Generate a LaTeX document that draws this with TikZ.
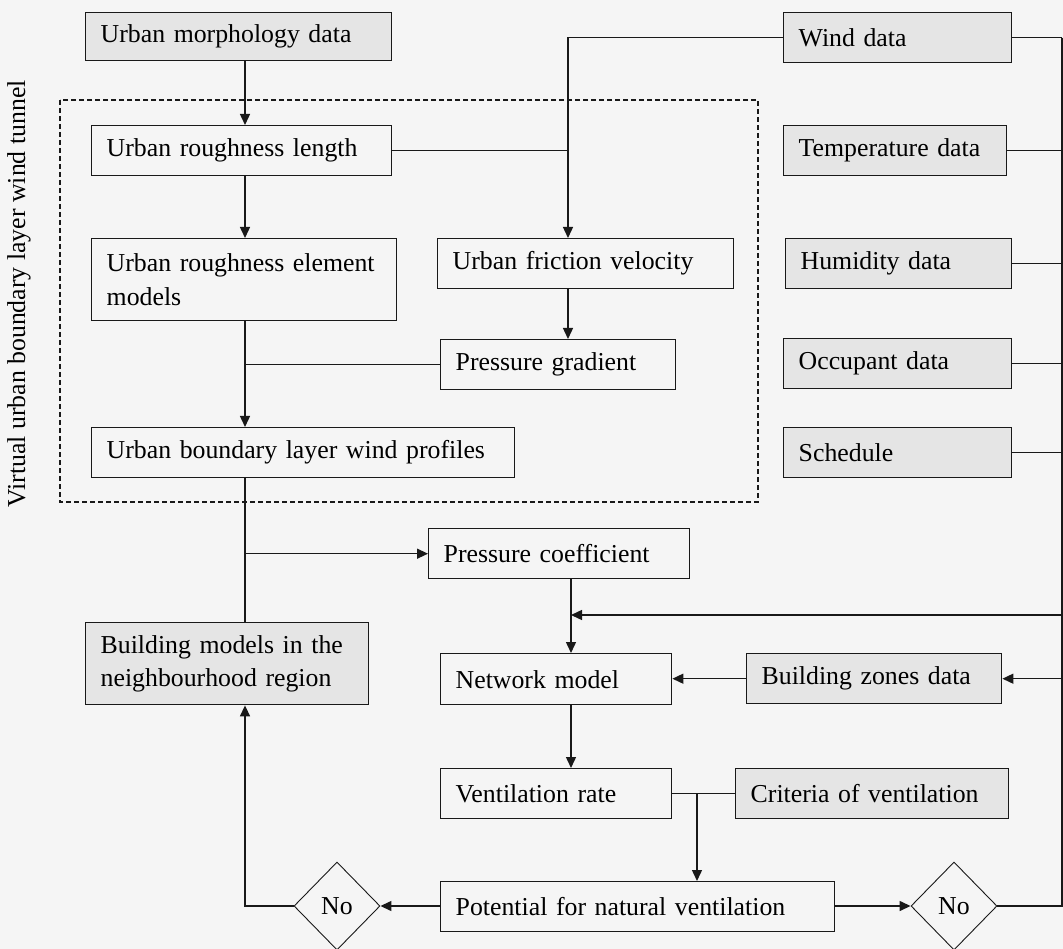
\documentclass[tikz,border=0pt]{standalone}
\usepackage{fontspec}
\setmainfont{Liberation Serif}
\usetikzlibrary{shapes.geometric,arrows.meta}

\definecolor{sheet}{RGB}{245,245,245}
\definecolor{datafill}{RGB}{229,229,229}
\definecolor{ink}{RGB}{25,25,25}

\begin{document}
\begin{tikzpicture}[x=1pt, y=-1pt, font=\fontsize{25.8}{33.5}\selectfont]
	\tikzstyle{block}    = [rectangle, draw=ink, line width=1.4pt, anchor=north west, inner xsep=15pt, inner ysep=0pt, align=left, minimum height=50pt]
	\tikzstyle{datablock} = [block, fill=datafill]
	\tikzstyle{decision} = [diamond, draw=ink, line width=0.9pt, minimum width=86pt, minimum height=88pt, inner sep=0pt, fill=sheet]
	\tikzstyle{flow}     = [draw=ink, line width=1.4pt, -{Triangle[length=11pt, width=10pt]}]
	\tikzstyle{link}     = [draw=ink, line width=1.4pt]

	\useasboundingbox (0,0) rectangle (1063,949);
	\fill[sheet] (0,0) rectangle (1063,949);

%	\draw[step=50, gray!50] (0,0) grid (1063,949);

	% wind tunnel part
	\draw[ink, line width=1.3pt, dash pattern=on 5pt off 3pt] (60,100) rectangle (758,502);
	\node[rotate=90] (tunnel) at (19,294) {Virtual urban boundary layer wind tunnel};

	\node[datablock, text width=276pt, minimum height=48pt] (morph) at (85,12) {Urban morphology data};
	\node[block, text width=270pt] (rlen) at (91,125) {Urban roughness length};
	\node[block, text width=275pt, minimum height=82pt] (relem) at (91,238) {Urban roughness element\\models};
	\node[block, text width=393pt] (wprof) at (91,427) {Urban boundary layer wind profiles};
	\node[datablock, text width=253pt, minimum height=82pt] (bldg) at (85,622) {Building models in the\\neighbourhood region};

	\node[block, text width=266pt] (fric) at (437,238) {Urban friction velocity};
	\node[block, text width=205pt] (pgrad) at (440,339) {Pressure gradient};
	\node[block, text width=231pt] (pcoef) at (428,528) {Pressure coefficient};
	\node[block, text width=201pt, minimum height=51pt] (netw) at (440,653) {Network model};
	\node[block, text width=201pt] (vrate) at (440,768) {Ventilation rate};
	\node[block, text width=364pt] (poten) at (440,881) {Potential for natural ventilation};

	\foreach \name/\x/\y/\w/\text in {wind/783/12/198/Wind data, temp/783/125/193/Temperature data,
			humid/785/238/196/Humidity data, occup/783/338/198/Occupant data, sched/783/427/198/Schedule,
			zones/746/653/225/Building zones data, crit/735/768/243/Criteria of ventilation}
		\node[datablock, text width=\w pt] (\name) at (\x,\y) {\text};

	\node[decision] (noL) at (337,906) {No};
	\node[decision] (noR) at (954,906) {No};

	% columns the connectors run along
	\coordinate (lcol) at (245,0);
	\coordinate (mcol) at (568,0);
	\coordinate (ncol) at (571,0);
	\coordinate (pcol) at (697,0);
	\coordinate (bus) at (1062,0);
	\coordinate (tap) at (1062,615);

	\foreach \from/\to in {morph/rlen, rlen/relem, relem/wprof}
		\path[flow] (\from.south -| lcol) -- (\to.north -| lcol);
	\path[link] (wprof.south -| lcol) -- (bldg.north -| lcol);
	\path[link] (pgrad.west) -- (pgrad.west -| lcol);
	\path[flow] (pcoef.west -| lcol) -- (pcoef.west);

	\path[flow] (wind.west) -| (fric.north -| mcol);
	\path[link] (rlen.east) -- (rlen.east -| mcol);
	\path[flow] (fric.south -| mcol) -- (pgrad.north -| mcol);

	% data bus on the right
	\foreach \src in {wind, temp, humid, occup, sched}
		\path[link] (\src.east) -- (\src.east -| bus);
	\path[link] (wind.east -| bus) -- (noR.east -| bus);
	\path[flow] (tap) -- (tap -| ncol);

	\path[flow] (pcoef.south -| ncol) -- (netw.north -| ncol);
	\path[flow] (zones.west) -- (zones.west -| netw.east);
	\path[flow] (netw.south -| ncol) -- (vrate.north -| ncol);
	\path[link] (vrate.east) -- (vrate.east -| crit.west);
	\path[flow] (vrate.east -| pcol) -- (poten.north -| pcol);

	\path[flow] (noL.east -| poten.west) -- (noL.east);
	\path[flow] (noL.west) -| (bldg.south -| lcol);
	\path[flow] (noR.west -| poten.east) -- (noR.west);
	\path[flow] (noR.east) -- (noR.east -| bus) |- (zones.east);

\end{tikzpicture}
\end{document}
